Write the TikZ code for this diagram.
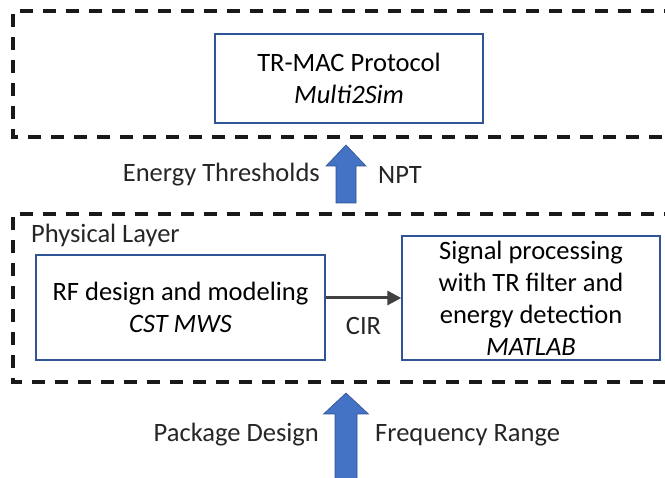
\documentclass[tikz,border=0pt]{standalone}
\usepackage{fontspec}
\setmainfont{Carlito}
\usetikzlibrary{arrows.meta,positioning}
\definecolor{boxblue}{RGB}{47,85,151}
\definecolor{arrowblue}{RGB}{68,114,196}
\definecolor{arrowedge}{RGB}{47,82,143}
\definecolor{darkline}{RGB}{64,64,64}
\begin{document}
\begin{tikzpicture}[x=1pt,y=-1pt,
		layer/.style={draw=black!90,line width=3.4pt,dash pattern=on 13pt off 10pt},
		block/.style={draw=boxblue,line width=1.4pt,align=center,inner sep=0pt},
		lbl/.style={inner sep=0pt,text=black!85},
		blockarrow/.style={fill=arrowblue,draw=arrowedge,line width=0.6pt},
		font=\fontsize{26.5}{32}\selectfont]
		\useasboundingbox (0,0) rectangle (665,478);
		\clip (0,0) rectangle (665,478);
		%layers
		\draw[layer] (700,11) -- (13,11) -- (13,137) -- (700,137);
		\draw[layer] (700,214) -- (13,214) -- (13,382) -- (700,382);
		\node[lbl,anchor=west] (phy) at (31,235) {Physical Layer};
		%blocks
		\node[block,minimum width=268pt,minimum height=89pt] (mac) at (349,78.5) {TR-MAC Protocol\\\textit{Multi2Sim}};
		\node[block,minimum width=289pt,minimum height=105pt] (rf) at (180.5,307.5) {RF design and modeling\\\textit{CST MWS}};
		\node[block,minimum width=258pt,minimum height=124pt] (sp) at (531,298) {Signal processing\\with TR filter and\\energy detection\\\textit{MATLAB}};
		\draw[darkline,line width=3pt,-{Triangle[length=14pt,width=14pt]}] (rf.east |- sp.west) -- (sp.west)
			node[lbl,midway,below=18pt] (cir) {CIR};
		%block arrows between the layers
		\coordinate (uptip) at (346,145);
		\coordinate (lowtip) at (346,393);
		\filldraw[blockarrow] (uptip) -- ++(20,21) -- ++(-10,0) -- ++(0,37) -- ++(-20,0) -- ++(0,-37) -- ++(-10,0) -- cycle;
		\filldraw[blockarrow] (lowtip) -- ++(22.5,21) -- ++(-11.5,0) -- ++(0,80) -- ++(-22,0) -- ++(0,-80) -- ++(-11.5,0) -- cycle;
		\node[lbl,anchor=east] (thr) at (320,175) {Energy Thresholds};
		\node[lbl,anchor=west] (npt) at (378,175) {NPT};
		\node[lbl,anchor=east] (pkg) at (319,435) {Package Design};
		\node[lbl,anchor=west] (frq) at (375,435) {Frequency Range};
\end{tikzpicture}
\end{document}
